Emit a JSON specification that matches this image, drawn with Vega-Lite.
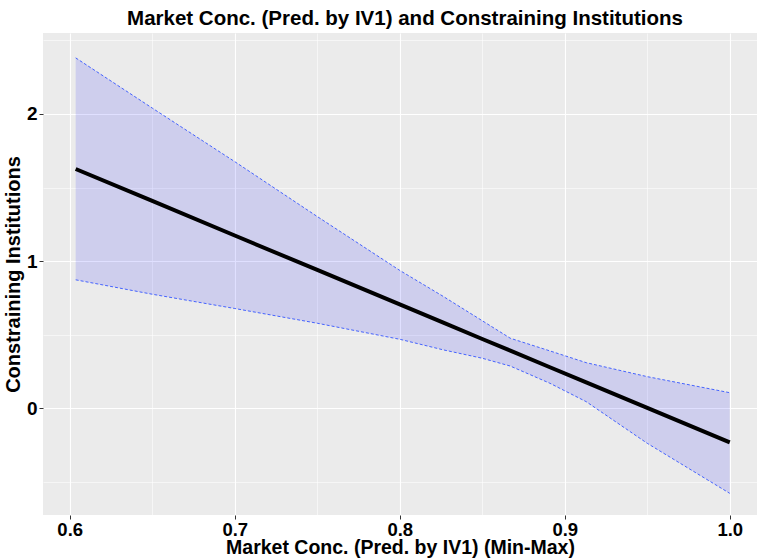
{
  "$schema": "https://vega.github.io/schema/vega-lite/v6.json",
  "width": 714,
  "height": 482,
  "autosize": {"type": "none"},
  "padding": {"left": 43, "top": 33, "right": 0, "bottom": 45},
  "background": "white",
  "config": {
    "view": {"fill": "#EBEBEB", "stroke": null},
    "font": "Liberation Sans"
  },
  "title": {
    "text": "Market Conc. (Pred. by IV1) and Constraining Institutions",
    "anchor": "middle",
    "fontSize": 20.5,
    "fontWeight": "bold",
    "color": "#000000",
    "offset": 4,
    "dx": 5
  },
  "data": {
    "values": [
      {"x": 0.6036, "fit": 1.626, "lo": 0.873, "hi": 2.381},
      {"x": 0.65, "fit": 1.409, "lo": 0.775, "hi": 2.040},
      {"x": 0.70, "fit": 1.174, "lo": 0.678, "hi": 1.676},
      {"x": 0.75, "fit": 0.940, "lo": 0.578, "hi": 1.303},
      {"x": 0.80, "fit": 0.706, "lo": 0.469, "hi": 0.937},
      {"x": 0.8264, "fit": 0.582, "lo": 0.397, "hi": 0.760},
      {"x": 0.85, "fit": 0.471, "lo": 0.340, "hi": 0.595},
      {"x": 0.867, "fit": 0.392, "lo": 0.287, "hi": 0.476},
      {"x": 0.891, "fit": 0.279, "lo": 0.170, "hi": 0.390},
      {"x": 0.913, "fit": 0.176, "lo": 0.045, "hi": 0.310},
      {"x": 0.95, "fit": 0.003, "lo": -0.238, "hi": 0.215},
      {"x": 1.0, "fit": -0.231, "lo": -0.578, "hi": 0.106}
    ]
  },
  "encoding": {
    "x": {
      "field": "x",
      "type": "quantitative",
      "scale": {"domain": [0.5838, 1.0165], "nice": false, "zero": false},
      "axis": {
        "title": "Market Conc. (Pred. by IV1) (Min-Max)",
        "titleFontSize": 19.5,
        "titleFontWeight": "bold",
        "titleColor": "#000000",
        "titlePadding": 0,
        "values": [0.6, 0.65, 0.7, 0.75, 0.8, 0.85, 0.9, 0.95, 1.0],
        "labelExpr": "abs(datum.value*10 - round(datum.value*10)) > 0.01 ? '' : format(datum.value, '.1f')",
        "labelFontSize": 18.5,
        "labelFontWeight": "bold",
        "labelColor": "#000000",
        "labelPadding": 1,
        "domain": false,
        "grid": true,
        "gridColor": "#FFFFFF",
        "gridWidth": {"condition": {"test": "abs(datum.value*10 - round(datum.value*10)) > 0.01", "value": 0.55}, "value": 1.1},
        "tickColor": {"condition": {"test": "abs(datum.value*10 - round(datum.value*10)) > 0.01", "value": "rgba(0,0,0,0)"}, "value": "#333333"},
        "tickSize": 4,
        "tickWidth": 1
      }
    }
  },
  "layer": [
    {
      "mark": {"type": "area", "color": "#0000FF", "opacity": 0.12},
      "encoding": {
        "y": {
          "field": "lo",
          "type": "quantitative",
          "scale": {"domain": [-0.725, 2.55], "nice": false, "zero": false},
          "axis": {
            "title": "Constraining Institutions",
            "titleFontSize": 20,
            "titleFontWeight": "bold",
            "titleColor": "#000000",
            "titlePadding": 3,
            "values": [-0.5, 0, 0.5, 1, 1.5, 2, 2.5],
            "labelExpr": "abs(datum.value - round(datum.value)) > 0.01 ? '' : format(datum.value, 'd')",
            "labelFontSize": 19,
            "labelFontWeight": "bold",
            "labelColor": "#000000",
            "labelPadding": 2,
            "domain": false,
            "grid": true,
            "gridColor": "#FFFFFF",
            "gridWidth": {"condition": {"test": "abs(datum.value - round(datum.value)) > 0.01", "value": 0.55}, "value": 1.1},
            "tickColor": {"condition": {"test": "abs(datum.value - round(datum.value)) > 0.01", "value": "rgba(0,0,0,0)"}, "value": "#333333"},
            "tickSize": 4,
            "tickWidth": 1
          }
        },
        "y2": {"field": "hi"}
      }
    },
    {
      "mark": {"type": "line", "color": "#3355FF", "strokeWidth": 0.9, "strokeDash": [3, 2]},
      "encoding": {"y": {"field": "lo", "type": "quantitative"}}
    },
    {
      "mark": {"type": "line", "color": "#3355FF", "strokeWidth": 0.9, "strokeDash": [3, 2]},
      "encoding": {"y": {"field": "hi", "type": "quantitative"}}
    },
    {
      "mark": {"type": "line", "color": "#000000", "strokeWidth": 4},
      "encoding": {"y": {"field": "fit", "type": "quantitative"}}
    }
  ]
}
